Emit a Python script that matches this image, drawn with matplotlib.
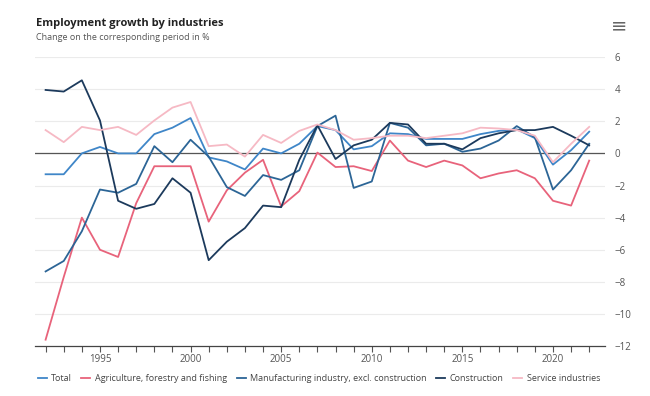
import numpy as np
import matplotlib.pyplot as plt
from matplotlib.ticker import MultipleLocator

# Employment growth by industries, change on corresponding period in %
years = list(range(1992, 2023))

total = [-1.3, -1.3, 0.0, 0.4, 0.0, 0.0, 1.2, 1.6, 2.2, -0.25, -0.5, -1.0, 0.3,
         0.0, 0.6, 1.7, 1.45, 0.25, 0.45, 1.25, 1.2, 0.9, 0.9, 0.9, 1.2, 1.4,
         1.5, 0.95, -0.7, 0.2, 1.35]
agriculture = [-11.6, -7.7, -4.0, -6.0, -6.45, -3.1, -0.8, -0.8, -0.8, -4.25,
               -2.3, -1.2, -0.4, -3.3, -2.35, 0.05, -0.85, -0.8, -1.1, 0.8,
               -0.45, -0.85, -0.45, -0.75, -1.55, -1.25, -1.05, -1.55, -2.95,
               -3.25, -0.45]
manufacturing = [-7.35, -6.7, -4.85, -2.25, -2.45, -1.9, 0.45, -0.55, 0.85,
                 -0.2, -2.1, -2.65, -1.35, -1.65, -1.05, 1.7, 2.35, -2.15,
                 -1.75, 1.9, 1.6, 0.5, 0.6, 0.1, 0.3, 0.8, 1.7, 1.0, -2.25,
                 -1.05, 0.6]
construction = [3.95, 3.85, 4.55, 2.05, -2.95, -3.45, -3.15, -1.55, -2.45,
                -6.65, -5.5, -4.65, -3.25, -3.35, -0.4, 1.75, -0.35, 0.5, 0.85,
                1.9, 1.8, 0.6, 0.6, 0.25, 0.95, 1.25, 1.45, 1.45, 1.65, 1.1,
                0.5]
services = [1.45, 0.7, 1.65, 1.45, 1.65, 1.15, 2.05, 2.85, 3.2, 0.45, 0.55,
            -0.2, 1.15, 0.65, 1.4, 1.8, 1.45, 0.85, 0.95, 1.1, 1.1, 0.95, 1.1,
            1.25, 1.6, 1.55, 1.45, 1.1, -0.55, 0.6, 1.65]

series = [
    ("Total", total, "#3f86c8"),
    ("Agriculture, forestry and fishing", agriculture, "#e8637b"),
    ("Manufacturing industry, excl. construction", manufacturing, "#2c6596"),
    ("Construction", construction, "#1c3a5c"),
    ("Service industries", services, "#f6b9c4"),
]

plt.rcParams['font.family'] = ['Open Sans', 'DejaVu Sans']

fig = plt.figure(figsize=(6.5, 3.96), dpi=100)
ax = fig.add_axes([0.054, 0.126, 0.877, 0.730])

for name, vals, col in series:
    ax.plot(years, vals, color=col, lw=1.3, label=name, zorder=3)

ax.set_xlim(1991.42, 2022.88)
ax.set_ylim(-12, 6)

# grid and zero line
for v in range(-10, 7, 2):
    ax.axhline(v, color="#ebebeb", lw=0.8, zorder=1)
ax.axhline(0, color="#555555", lw=0.9, zorder=2)

for s in ["top", "right", "left"]:
    ax.spines[s].set_visible(False)
ax.spines["bottom"].set_color("#444444")
ax.spines["bottom"].set_linewidth(0.9)

ax.yaxis.tick_right()
ax.set_yticks(range(-12, 7, 2))
ax.tick_params(axis="y", length=0, pad=7, labelsize=7, labelcolor="#555555")

ax.xaxis.set_major_locator(MultipleLocator(5))
ax.xaxis.set_minor_locator(MultipleLocator(1))
ax.tick_params(axis="x", which="both", length=4, color="#555555", width=0.8,
               pad=2, labelsize=7, labelcolor="#555555")

fig.text(0.055, 0.94, "Employment growth by industries", fontsize=8,
         fontweight="bold", color="#222222", va="center")
fig.text(0.055, 0.905, "Change on the corresponding period in %", fontsize=6.5,
         color="#555555", va="center")
fig.text(0.952, 0.935, "\u2261", fontsize=14, color="#666666",
         ha="center", va="center", family="DejaVu Sans")

ax.legend(loc="upper left", bbox_to_anchor=(-0.01, -0.07), ncol=5,
          frameon=False, fontsize=6.5, handlelength=1.0, handletextpad=0.5,
          columnspacing=1.05, labelcolor="#444444")

fig.savefig("out.png", dpi=100)
